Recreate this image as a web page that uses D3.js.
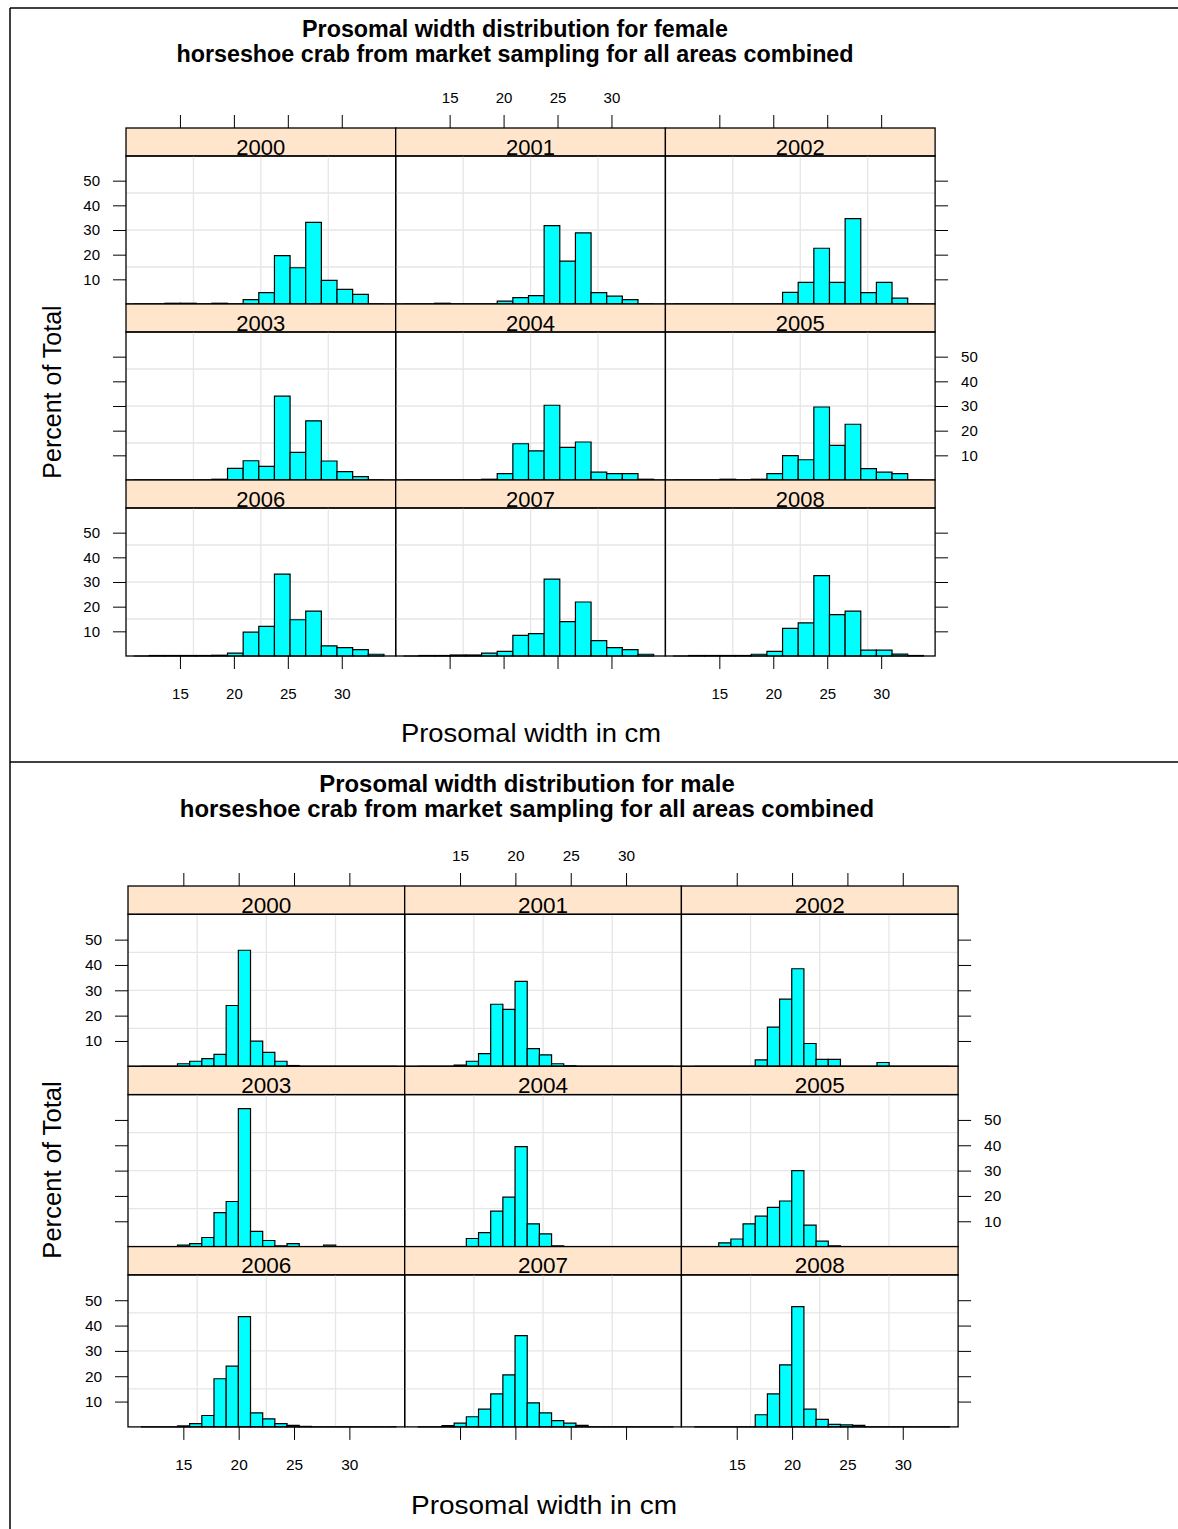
<!DOCTYPE html>
<html>
<head>
<meta charset="utf-8" />
<style>
    body { margin: 0; background: #fff; }
    svg { display: block; }
    text { font-family: "Liberation Sans", Arial, sans-serif; fill: #000; }
</style>
</head>
<body>
<svg id="chart" width="1178" height="1529"></svg>
<script src="https://cdnjs.cloudflare.com/ajax/libs/d3/7.8.5/d3.min.js"></script>
<script>
// panel labels (left to right, top to bottom)
var years = ['2000', '2001', '2002', '2003', '2004', '2005', '2006', '2007', '2008'];
var xTicks = [15, 20, 25, 30];
var yTicks = [10, 20, 30, 40, 50];

// female: bin edges (cm) and percent of total per bin
var femaleBreaks = [10.71, 12.16, 13.61, 15.06, 16.51, 17.96, 19.41, 20.86, 22.31, 23.76,
                    25.21, 26.66, 28.11, 29.56, 31.01, 32.46, 33.91];
var female2000 = [0, 0, 0.3, 0.3, 0, 0.3, 0, 1.8, 4.6, 19.6, 14.7, 33.1, 9.6, 5.9, 3.9, 0];
var female2001 = [0, 0, 0.3, 0, 0, 0, 1.2, 2.6, 3.4, 31.8, 17.4, 28.8, 4.6, 3.2, 1.8, 0];
var female2002 = [0, 0, 0, 0, 0, 0, 0, 4.7, 8.8, 22.6, 8.8, 34.6, 4.6, 8.8, 2.4, 0];
var female2003 = [0, 0, 0, 0, 0, 0.3, 4.7, 7.8, 5.5, 34, 11.2, 24, 7.7, 3.4, 1.4, 0];
var female2004 = [0, 0, 0, 0, 0, 0.3, 2.6, 14.7, 11.8, 30.3, 13.2, 15.4, 3.2, 2.6, 2.6, 0.3];
var female2005 = [0, 0, 0, 0.3, 0, 0.3, 2.6, 9.9, 8.2, 29.6, 14, 22.6, 4.6, 3.2, 2.6, 0];
var female2006 = [0, 0.2, 0.2, 0.2, 0.2, 0.3, 1.2, 9.7, 12, 33.2, 14.7, 18.2, 4.1, 3.4, 2.6, 0.7];
var female2007 = [0, 0.2, 0.2, 0.4, 0.4, 1.2, 1.9, 8.4, 9.1, 31.2, 13.9, 21.9, 6.2, 3.4, 2.6, 0.7];
var female2008 = [0, 0.2, 0.2, 0.2, 0.2, 0.7, 1.9, 11.2, 13.4, 32.6, 16.8, 18.2, 2.4, 2.4, 0.8, 0.2];

// male: bin edges (cm) and percent of total per bin
var maleBreaks = [11.17, 12.27, 13.37, 14.47, 15.57, 16.67, 17.77, 18.87, 19.97, 21.07, 22.17,
                  23.27, 24.37, 25.47, 26.57, 27.67, 28.77, 29.87, 30.97, 32.07, 33.17, 34.27];
var male2000 = [0, 0, 0, 1, 2, 3, 4.7, 24, 45.8, 9.9, 5.5, 2, 0.3, 0, 0, 0, 0, 0, 0, 0, 0];
var male2001 = [0, 0, 0, 0.5, 2, 5, 24.5, 22.5, 33.5, 7, 4.5, 1, 0.2, 0, 0, 0, 0, 0, 0, 0, 0];
var male2002 = [0, 0, 0, 0, 0, 2.5, 15.5, 26.5, 38.5, 9, 2.7, 2.7, 0, 0, 0, 1.5, 0, 0, 0, 0, 0];
var male2003 = [0, 0, 0, 0.6, 1.2, 3.6, 13.4, 17.8, 54.5, 6, 2.4, 0.3, 1.2, 0, 0, 0.6, 0, 0, 0, 0, 0];
var male2004 = [0, 0, 0, 0, 3.2, 5.5, 14, 19.5, 39.5, 9, 5, 0.3, 0, 0, 0, 0, 0, 0, 0, 0, 0];
var male2005 = [0, 0, 1.5, 3, 9, 12, 15.5, 18, 30, 8.5, 2.2, 0.3, 0, 0, 0, 0, 0, 0, 0, 0, 0];
var male2006 = [0, 0, 0, 0.4, 1.3, 4.5, 19, 24, 43.5, 5.5, 3.2, 1.3, 0.6, 0.2, 0, 0, 0, 0, 0, 0, 0];
var male2007 = [0, 0, 0.5, 1.5, 4, 7, 13, 20.5, 36, 9.5, 5.5, 2.5, 1.5, 0.6, 0, 0, 0, 0, 0, 0, 0];
var male2008 = [0, 0, 0, 0, 0, 4.8, 13, 24.5, 47.5, 7, 3, 1, 0.8, 0.6, 0, 0, 0, 0, 0, 0, 0];

var svg = d3.select('#chart');

// page frame
svg.append('line').attr('x1', 10).attr('y1', 8).attr('x2', 1178).attr('y2', 8)
    .attr('stroke', '#000').attr('stroke-width', 1.5);
svg.append('line').attr('x1', 10).attr('y1', 8).attr('x2', 10).attr('y2', 1529)
    .attr('stroke', '#000').attr('stroke-width', 1.5);
svg.append('line').attr('x1', 10).attr('y1', 762).attr('x2', 1178).attr('y2', 762)
    .attr('stroke', '#000').attr('stroke-width', 1.5);

function styleAxis(sel, fs) {
    sel.select('.domain').remove();
    sel.attr('font-family', '"Liberation Sans", Arial, sans-serif').attr('font-size', fs);
    sel.selectAll('.tick line').attr('stroke', '#000');
}

function drawLattice(o) {
    var g = svg.append('g');
    var pw = o.panelW, ph = o.panelH, sh = o.stripH;
    var x = d3.scaleLinear().domain([10, 35]).range([0, pw]);
    var y = d3.scaleLinear().domain([0, 60]).range([ph, 0]);

    // titles
    o.title.forEach(function(t, i) {
        g.append('text').attr('x', o.titleX).attr('y', o.titleY[i])
            .attr('text-anchor', 'middle').attr('font-weight', 'bold')
            .attr('font-size', o.titleFont).text(t);
    });
    g.append('text').attr('x', o.xlabX).attr('y', o.xlabY)
        .attr('text-anchor', 'middle').attr('font-size', o.labFont)
        .attr('textLength', o.xlabW).attr('lengthAdjust', 'spacingAndGlyphs')
        .text('Prosomal width in cm');
    g.append('text')
        .attr('transform', 'translate(' + o.ylabX + ',' + o.ylabY + ') rotate(-90)')
        .attr('text-anchor', 'middle').attr('dy', '0.35em').attr('font-size', o.labFont)
        .text('Percent of Total');

    o.series.forEach(function(vals, i) {
        var col = i % 3, row = Math.floor(i / 3);
        var px = o.left + col * pw, py = o.top + row * (sh + ph);
        var p = g.append('g').attr('transform', 'translate(' + px + ',' + py + ')');

        p.append('rect').attr('width', pw).attr('height', sh)
            .attr('fill', '#ffe5cc').attr('stroke', '#000').attr('stroke-width', 1.3);
        p.append('text').attr('x', pw / 2).attr('y', sh - 1.5)
            .attr('text-anchor', 'middle').attr('font-size', o.stripFont).text(years[i]);

        var body = p.append('g').attr('transform', 'translate(0,' + sh + ')');

        // panel.grid(h = 3, v = 3)
        d3.range(1, 4).forEach(function(k) {
            body.append('line').attr('x1', x(10 + 25 * k / 4)).attr('x2', x(10 + 25 * k / 4))
                .attr('y1', 0).attr('y2', ph).attr('stroke', '#e6e6e6').attr('stroke-width', 1.3);
            body.append('line').attr('x1', 0).attr('x2', pw)
                .attr('y1', y(60 * k / 4)).attr('y2', y(60 * k / 4))
                .attr('stroke', '#e6e6e6').attr('stroke-width', 1.3);
        });

        body.selectAll('path.bar').data(vals).enter().append('path')
            .attr('class', 'bar')
            .attr('d', function(d, j) {
                var x0 = x(o.breaks[j]), x1 = x(o.breaks[j + 1]);
                return 'M' + x0 + ',' + y(0) + 'V' + y(d) + 'H' + x1 + 'V' + y(0) + 'Z';
            })
            .attr('fill', '#00ffff').attr('stroke', '#000').attr('stroke-width', 1.2);

        body.append('rect').attr('width', pw).attr('height', ph)
            .attr('fill', 'none').attr('stroke', '#000').attr('stroke-width', 1.3);

        // axes, alternating like lattice
        var showLab;
        if (col === 0) {
            showLab = row !== 1;
            body.append('g').call(d3.axisLeft(y).tickValues(yTicks).tickSize(o.tick)
                .tickPadding(o.padY).tickSizeOuter(0).tickFormat(showLab ? d3.format('d') : ''))
                .call(styleAxis, o.tickFont);
        }
        if (col === 2) {
            showLab = row === 1;
            body.append('g').attr('transform', 'translate(' + pw + ',0)')
                .call(d3.axisRight(y).tickValues(yTicks).tickSize(o.tick)
                .tickPadding(o.padY).tickSizeOuter(0).tickFormat(showLab ? d3.format('d') : ''))
                .call(styleAxis, o.tickFont);
        }
        if (row === 0) {
            showLab = col === 1;
            p.append('g').call(d3.axisTop(x).tickValues(xTicks).tickSize(o.tick)
                .tickPadding(o.padTop).tickSizeOuter(0).tickFormat(showLab ? d3.format('d') : ''))
                .call(styleAxis, o.tickFont);
        }
        if (row === 2) {
            showLab = col !== 1;
            body.append('g').attr('transform', 'translate(0,' + ph + ')')
                .call(d3.axisBottom(x).tickValues(xTicks).tickSize(o.tick)
                .tickPadding(o.padBottom).tickSizeOuter(0).tickFormat(showLab ? d3.format('d') : ''))
                .call(styleAxis, o.tickFont);
        }
    });
}

drawLattice({
    title: ['Prosomal width distribution for female',
            'horseshoe crab from market sampling for all areas combined'],
    titleX: 515, titleY: [37, 62], titleFont: 23.3,
    xlabX: 531, xlabY: 742, xlabW: 260, ylabX: 52, ylabY: 392, labFont: 25,
    left: 126, top: 128, panelW: 269.7, panelH: 148, stripH: 28,
    stripFont: 22, tickFont: 15, tick: 13, padY: 13, padTop: 12, padBottom: 19,
    breaks: femaleBreaks,
    series: [female2000, female2001, female2002, female2003, female2004,
             female2005, female2006, female2007, female2008]
});

drawLattice({
    title: ['Prosomal width distribution for male',
            'horseshoe crab from market sampling for all areas combined'],
    titleX: 527, titleY: [792, 817], titleFont: 23.9,
    xlabX: 544, xlabY: 1514, xlabW: 266, ylabX: 52, ylabY: 1170, labFont: 25.6,
    left: 128, top: 886, panelW: 276.7, panelH: 152, stripH: 28.3,
    stripFont: 22.5, tickFont: 15.4, tick: 13, padY: 13, padTop: 12, padBottom: 19.5,
    breaks: maleBreaks,
    series: [male2000, male2001, male2002, male2003, male2004,
             male2005, male2006, male2007, male2008]
});
</script>
</body>
</html>
